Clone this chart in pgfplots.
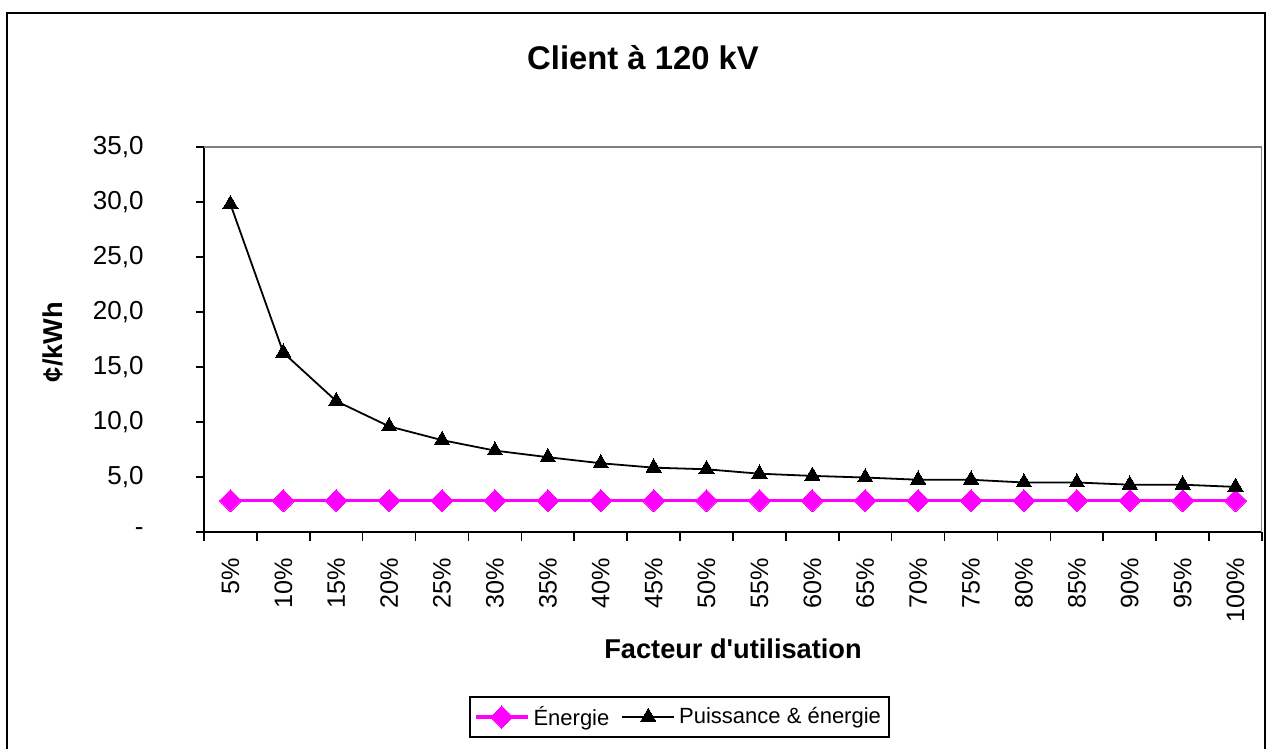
\documentclass[border=0pt]{standalone}
\usepackage{fontspec}
\setmainfont{Liberation Sans}[Ligatures=TeXOff]
\usepackage{pgfplots}
\pgfplotsset{compat=1.18}
\definecolor{pinkE}{RGB}{255,0,255}
\definecolor{frameGray}{RGB}{128,128,128}
\begin{document}
\begin{tikzpicture}[x=0.5pt,y=0.5pt]
\useasboundingbox (0,0) rectangle (1266,749);
\draw[line width=1pt] (7,-5) -- (7,736) -- (1265,736) -- (1265,-5);
\node[font=\bfseries\fontsize{16.4}{19}\selectfont] at (643,691) {Client à 120 kV};
\begin{axis}[
  at={(102pt,108.5pt)}, anchor=south west,
  scale only axis, width=529pt, height=192.5pt,
  xmin=0.5, xmax=20.5, ymin=0, ymax=35,
  axis x line*=bottom, axis y line*=left,
  axis line style={line width=0.8pt, -},
  tick align=outside, major tick length=4pt, minor tick length=4.5pt,
  tick style={black, line width=0.8pt},
  ytick={0,5,...,35},
  yticklabels={-, {5,0}, {10,0}, {15,0}, {20,0}, {25,0}, {30,0}, {35,0}},
  yticklabel style={font=\fontsize{13}{15}\selectfont, inner sep=0pt, anchor=east, xshift=-26pt},
  xtick={1,2,...,20},
  xticklabels={5\%,10\%,15\%,20\%,25\%,30\%,35\%,40\%,45\%,50\%,55\%,60\%,65\%,70\%,75\%,80\%,85\%,90\%,95\%,100\%},
  major x tick style={draw=none},
  minor xtick={0.5,1.5,...,20.5},
  xticklabel style={yshift=-9pt, rotate=90, anchor=east, inner sep=0pt, font=\fontsize{12.6}{15}\selectfont},
  xlabel={Facteur d'utilisation},
  xlabel style={font=\bfseries\fontsize{13.6}{16}\selectfont, at={(rel axis cs:0.5,-0.304)}, anchor=center},
  ylabel={¢/kWh},
  ylabel style={font=\bfseries\fontsize{13.6}{16}\selectfont, at={(rel axis cs:-0.143,0.4935)}, anchor=center},
  legend columns=2,
  legend style={at={(0.4494,-0.4805)}, anchor=center, draw=black, line width=0.6pt,
     font=\fontsize{11}{13}\selectfont, inner xsep=2pt, inner ysep=2.5pt,
     /tikz/every even column/.append style={column sep=4pt}},
  legend cell align=left,
  legend image code/.code={\draw[mark repeat=2,mark phase=2,#1] plot coordinates {(0pt,0pt)(13pt,0pt)(26pt,0pt)};},
]
\draw[frameGray, line width=1pt] (rel axis cs:0,1) -- (rel axis cs:1,1) -- (rel axis cs:1,0);
\addplot[pinkE, line width=1.8pt, mark=square*, mark size=3.9pt, mark options={rotate=45, fill=pinkE, draw=pinkE, line width=0pt}]
 coordinates {(1,2.85)(2,2.85)(3,2.85)(4,2.85)(5,2.85)(6,2.85)(7,2.85)(8,2.85)(9,2.85)(10,2.85)
 (11,2.85)(12,2.85)(13,2.85)(14,2.85)(15,2.85)(16,2.85)(17,2.85)(18,2.85)(19,2.85)(20,2.85)};
\addlegendentry{Énergie}
\addplot[black, line width=0.9pt, mark=triangle*, mark size=4.4pt, mark options={fill=black, line width=0pt}]
 coordinates {(1,29.8)(2,16.3)(3,11.9)(4,9.6)(5,8.35)(6,7.4)(7,6.8)(8,6.25)(9,5.85)(10,5.7)
 (11,5.3)(12,5.1)(13,4.95)(14,4.75)(15,4.75)(16,4.5)(17,4.5)(18,4.3)(19,4.3)(20,4.1)};
\addlegendentry{Puissance \& énergie}
\end{axis}
\end{tikzpicture}
\end{document}
